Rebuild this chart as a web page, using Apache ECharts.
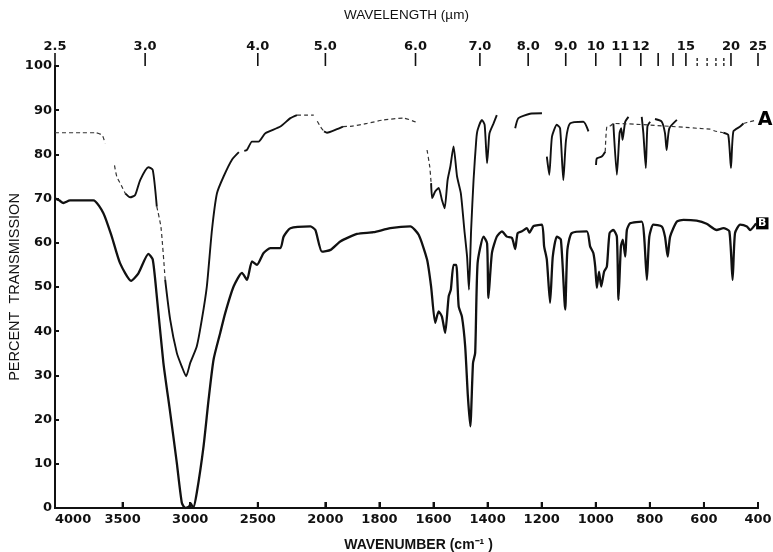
<!DOCTYPE html>
<html><head><meta charset="utf-8">
<script src="https://cdn.jsdelivr.net/npm/echarts@6/dist/echarts.min.js"></script>
<style>html,body{margin:0;padding:0;background:#fff}#c{width:773px;height:552px}</style>
</head><body><div id="c"></div>
<script>
// ---- data ----
const wavenumberTicks = [4000,3500,3000,2500,2000,1800,1600,1400,1200,1000,800,600,400];
const wavelengthTicks = [2.5,3,4,5,6,7,8,9,10,11,12,13,14,15,20,25];
const wavelengthLabels = ['2.5','3.0','4.0','5.0','6.0','7.0','8.0','9.0','10','11','12','','','15','20','25'];
const wavelengthMinorTicks = [16,17,18,19];

// Spectrum B (lower trace), wavenumber (cm-1) / percent transmission
const bWn = [4000,3969,3938,3889,3716,3642,3580,3519,3437,3383,3309,3277,3247,3198,3148,3099,3062,3037,3010,2995,2978,2951,2901,2864,2827,2778,2741,2679,2617,2580,2543,2506,2457,2407,2333,2309,2259,2111,2074,2025,1981,1945,1883,1822,1760,1686,1655,1624,1609,1594,1581,1569,1557,1544,1536,1526,1516,1507,1495,1483,1473,1464,1454,1446,1437,1415,1402,1397,1384,1366,1347,1329,1310,1298,1289,1273,1255,1245,1230,1199,1191,1181,1169,1159,1144,1129,1113,1105,1089,1033,1021,1009,1002,996,988,980,969,959,949,935,922,916,907,900,891,885,873,830,821,811,802,787,756,744,734,725,700,676,627,590,553,528,506,494,485,466,441,429,407];
const bT  = [70.1,69.6,69.0,69.6,69.6,66.7,61.4,55.4,51.4,53.1,57.5,56.2,47.9,32.8,21.6,10.2,1.2,0.0,0.3,1.0,0.0,3.5,14.0,24.5,33.6,39.6,44.1,50.1,53.2,51.6,55.8,55.0,57.7,58.8,58.8,61.4,63.3,63.7,62.9,58.0,58.4,60.3,62.0,62.4,63.3,63.7,61.8,56.2,50.1,41.9,44.5,43.3,39.6,47.9,49.4,55.0,55.0,45.6,43.3,36.6,25.3,18.5,32.8,35.1,55.4,61.4,59.9,47.5,57.7,61.4,62.6,61.4,61.1,58.6,62.2,62.6,63.3,62.3,63.8,64.1,59.2,56.2,46.4,56.9,61.4,60.7,44.9,58.4,62.2,62.6,59.2,57.7,54.6,49.8,53.5,50.1,53.5,54.6,62.2,62.9,61.4,47.1,59.2,60.7,56.9,62.9,64.4,64.8,61.4,51.6,61.4,64.1,63.7,61.4,56.9,61.4,64.8,65.2,65.0,64.3,62.9,63.3,62.6,51.6,62.2,64.1,63.7,62.9,64.4];

// Spectrum A (upper trace), pen-inked parts; null = pen gap
const aWn = [3481,3444,3407,3370,3309,3277,3247,3216,
  3185,3148,3099,3062,3030,3000,2951,2914,2877,2839,2802,2753,2691,2640,2620,
  2600,2580,2543,2494,2444,2333,2259,2210,2150,
  2010,1994,1957,1935,1900,
  1609,1605,1594,1581,1569,1559,1548,1538,1526,1513,1499,1486,1476,1469,1461,1452,1442,1437,1421,1411,1402,1397,1393,1378,1366,1330,
  1298,1286,1243,1199,1190,
  1181,1172,1162,1144,1132,1120,1110,1095,1046,1027,1010,
  999,996,978,965,962,
  935,922,912,906,901,891,879,850,
  830,824,815,809,799,790,
  781,756,744,738,728,700,650,
  528,510,500,491,466,454];
const aT  = [71.2,70.3,70.8,74.2,77.1,76.5,68.2,null,
  51.6,42.6,35.1,32.0,29.8,32.8,36.6,42.6,50.1,62.9,71.2,75.0,78.8,80.5,null,
  80.8,81.0,82.9,82.9,84.8,86.3,88.2,88.9,null,
  85.2,84.9,85.7,86.3,null,
  73.5,70.1,71.6,72.4,69.7,67.8,74.2,77.2,81.8,75.0,71.2,62.9,56.9,49.4,62.9,74.2,83.3,85.5,87.8,86.7,78.0,81.8,84.8,87.0,88.9,null,
  85.9,88.2,89.2,89.3,null,
  79.5,75.4,84.0,86.7,85.9,74.2,83.3,87.0,87.4,85.2,null,
  77.6,79.1,79.5,80.6,null,
  87.0,75.4,84.8,85.9,83.3,87.4,88.5,null,
  88.5,84.8,76.9,86.3,87.4,null,
  88.0,87.4,84.8,81.0,85.9,87.8,null,
  84.9,84.4,76.9,85.2,86.3,87.0];

// Spectrum A, faint (dotted) parts of the trace; null = gap
const aFaintWn = [4000,3800,3700,3650,3630,3600,
  3560,3543,3510,3481,3470,
  3247,3216,3185,3170,
  2210,2150,2086,2070,
  2060,2037,2010,2000,
  1935,1900,1846,1785,1711,1661,1645,
  1624,1614,1609,1600,
  965,959,945,935,
  577,560,528,520,
  454,429,405];
const aFaintT  = [84.9,84.9,84.9,84.3,82.5,null,
  77.5,75.0,73.0,71.2,null,
  68.2,63.5,51.6,null,
  88.9,88.9,88.9,null,
  87.5,86.3,85.2,null,
  86.3,86.4,87.0,87.8,88.2,87.2,null,
  81.0,77.2,73.5,null,
  80.6,86.3,86.5,87.0,
  85.7,85.3,84.9,null,
  87.0,87.4,87.8];

// ---- scale: 4000-2000 cm-1 at half the scale of 2000-400 cm-1 ----
const toU = w => w >= 2000 ? 4000 - w : 2000 + 2 * (2000 - w);
const fromU = u => u <= 2000 ? 4000 - u : 2000 - (u - 2000) / 2;
const pairs = (ws, ts) => ws.map((w, i) => [toU(w), ts[i] === null ? '-' : ts[i]]);

const labelFont = {fontFamily: 'DejaVu Sans', fontWeight: 'bold', fontSize: 13, color: '#111'};
const nameFont = {fontFamily: 'Liberation Sans', fontSize: 13.5, color: '#111'};
const topTickU = wavelengthTicks.map(l => toU(10000 / l));
const topLabelU = wavelengthTicks.filter((l, i) => wavelengthLabels[i] !== '').map(l => toU(10000 / l));

// tick marks drawn through the axes' own scale
const tickSeries = (xIdx, values, yVal, len, style) => ({
  type: 'custom', xAxisIndex: xIdx, yAxisIndex: 0, clip: false, silent: true, z: 5,
  data: values.map(u => [u, yVal]),
  renderItem: (params, api) => {
    const p = api.coord([api.value(0), api.value(1)]);
    return {type: 'line', shape: {x1: p[0], y1: p[1], x2: p[0], y2: p[1] + len}, style: style};
  }
});

const chart = echarts.init(document.getElementById('c'), null, {renderer: 'canvas'});
chart.setOption({
  animation: false,
  backgroundColor: '#fff',
  grid: {left: 55, right: 15, top: 66, bottom: 44, outerBoundsMode: 'none', containLabel: false},
  xAxis: [{
    type: 'value', min: 0, max: 5200, position: 'bottom',
    name: 'WAVENUMBER (cm\u207B\u00B9 )', nameLocation: 'middle', nameGap: 30, nameMoveOverlap: false,
    nameTextStyle: Object.assign({}, nameFont, {fontSize: 14, fontWeight: 'bold', padding: [0, 0, 0, 24]}),
    axisLine: {show: true, lineStyle: {color: '#111', width: 2}},
    axisTick: {show: true, inside: true, length: 6, lineStyle: {color: '#111', width: 2},
      customValues: wavenumberTicks.map(toU)},
    axisLabel: Object.assign({}, labelFont, {margin: 5, alignMinLabel: 'left',
      customValues: wavenumberTicks.map(toU), formatter: v => String(Math.round(fromU(v)))}),
    splitLine: {show: false}
  }, {
    type: 'value', min: 0, max: 5200, position: 'top',
    name: 'WAVELENGTH (\u00B5m)', nameLocation: 'middle', nameGap: 44, nameMoveOverlap: false,
    nameTextStyle: nameFont,
    axisLine: {show: true, lineStyle: {color: '#111', width: 2}},
    axisTick: {show: false},
    axisLabel: Object.assign({}, labelFont, {margin: 13, customValues: topLabelU,
      formatter: v => {
        let best = 0, d = Infinity;
        topTickU.forEach((u, i) => { if (Math.abs(u - v) < d) { d = Math.abs(u - v); best = i; } });
        return wavelengthLabels[best];
      }}),
    splitLine: {show: false}
  }],
  yAxis: [{
    type: 'value', min: 0, max: 100, interval: 10, position: 'left',
    name: 'PERCENT  TRANSMISSION', nameLocation: 'middle', nameGap: 33, nameRotate: 90, nameMoveOverlap: false,
    nameTextStyle: Object.assign({}, nameFont, {fontSize: 14.5}),
    axisLine: {show: true, lineStyle: {color: '#111', width: 2}},
    axisTick: {show: true, inside: true, length: 4, lineStyle: {color: '#111', width: 2}},
    axisLabel: Object.assign({}, labelFont, {margin: 3}),
    splitLine: {show: false}
  }, {
    type: 'value', min: 0, max: 100, position: 'right',
    axisLine: {show: true, lineStyle: {color: '#111', width: 2}},
    axisTick: {show: false}, axisLabel: {show: false}, splitLine: {show: false}
  }],
  series: [
    tickSeries(1, topTickU, 100, -13, {stroke: '#111', lineWidth: 1.6}),
    tickSeries(1, wavelengthMinorTicks.map(l => toU(10000 / l)), 100, -10, {stroke: '#111', lineWidth: 1.3, lineDash: [3, 2]}),
  {
    name: 'B', type: 'line', data: pairs(bWn, bT), showSymbol: false, smooth: 0.2,
    connectNulls: false, lineStyle: {color: '#111', width: 2.3},
    endLabel: {show: true, formatter: 'B', distance: 0, backgroundColor: '#000', color: '#fff',
      fontFamily: 'DejaVu Sans', fontWeight: 'bold', fontSize: 11, padding: [1, 2, 0, 2]}
  }, {
    name: 'A', type: 'line', data: pairs(aWn, aT), showSymbol: false, smooth: 0.2,
    connectNulls: false, lineStyle: {color: '#111', width: 1.9}
  }, {
    name: 'A faint', type: 'line', data: pairs(aFaintWn, aFaintT), showSymbol: false, smooth: 0.2,
    connectNulls: false, lineStyle: {color: '#333', width: 1.2, type: [4, 3]},
    endLabel: {show: true, formatter: 'A', distance: 0, backgroundColor: '#fff', color: '#000',
      fontFamily: 'DejaVu Sans', fontWeight: 'bold', fontSize: 19, padding: [2, 1, 2, 1]}
  },
    tickSeries(0, wavenumberTicks.map(toU), 0, -6, {stroke: '#111', lineWidth: 2})
  ]
});
</script></body></html>
